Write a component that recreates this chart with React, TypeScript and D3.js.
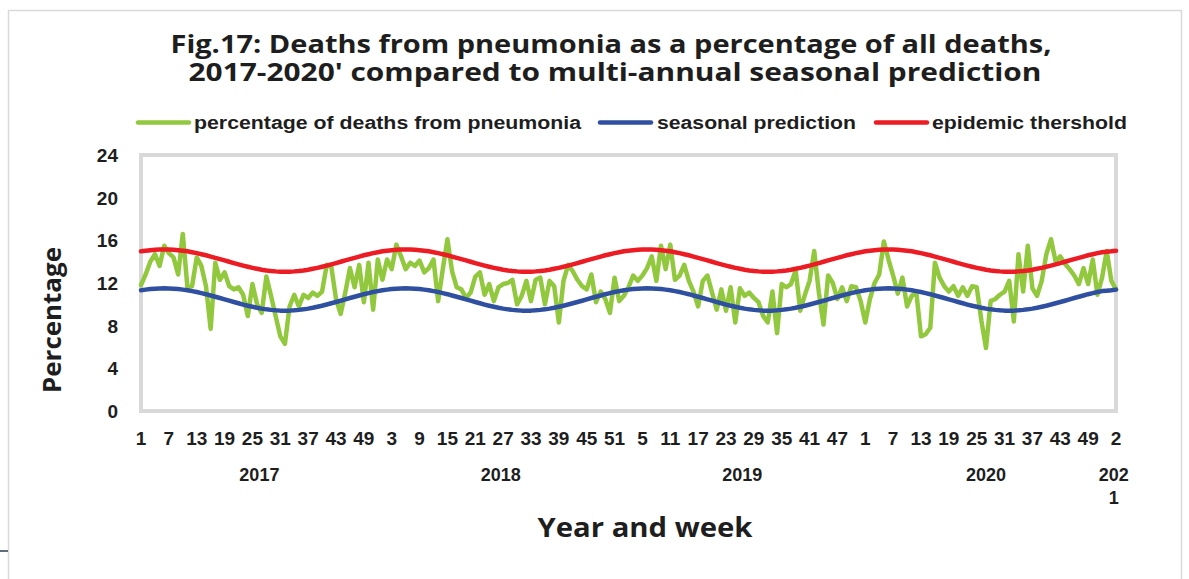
import React from "react";
import * as d3 from "d3";

// ---- data ----
const years = ["2017", "2018", "2019", "2020", "2021"];
const weeksPerYear = [52, 52, 52, 53, 2];

const pct2017 = [
  11.8, 12.8, 14.0, 14.7, 13.6, 15.5, 14.8, 14.4, 12.8, 16.6,
  11.6, 11.7, 14.4, 13.6, 11.7, 7.7, 13.9, 12.3, 13.0, 11.7,
  11.4, 11.6, 10.9, 8.9, 11.9, 10.0, 9.2, 12.6, 10.8, 8.9,
  7.0, 6.3, 9.8, 10.9, 9.8, 10.9, 10.6, 11.1, 10.8, 11.2,
  13.7, 13.5, 10.5, 9.1, 11.1, 13.4, 11.6, 13.7, 10.2, 13.9,
  9.5, 14.2,
];
const pct2018 = [
  12.3, 14.2, 13.3, 15.6, 14.5, 13.3, 13.9, 13.6, 14.1, 13.0,
  13.4, 14.2, 10.3, 13.3, 16.1, 13.1, 11.6, 11.4, 10.6, 11.1,
  12.6, 13.0, 10.9, 11.9, 10.3, 11.6, 11.9, 12.0, 12.3, 10.0,
  10.8, 12.2, 10.3, 12.3, 12.5, 10.0, 12.2, 11.7, 8.3, 12.2,
  13.7, 13.1, 12.3, 11.7, 11.4, 12.8, 10.2, 11.2, 10.5, 9.2,
  12.5, 10.3,
];
const pct2019 = [
  10.8, 11.6, 12.7, 12.2, 12.7, 13.4, 14.5, 12.2, 15.5, 13.3,
  15.6, 12.3, 12.7, 13.7, 12.2, 11.2, 9.8, 12.2, 12.7, 11.1,
  9.5, 11.4, 9.4, 11.6, 8.3, 11.5, 10.8, 11.1, 10.6, 10.2,
  8.9, 8.3, 11.2, 7.3, 11.9, 11.6, 11.9, 13.2, 9.4, 10.9,
  12.2, 15.0, 11.1, 8.1, 12.7, 12.0, 10.5, 11.6, 10.3, 11.7,
  11.6, 10.3,
];
const pct2020 = [
  8.3, 10.5, 12.0, 12.8, 15.9, 14.2, 12.7, 11.0, 12.5, 9.8,
  10.8, 11.1, 7.0, 7.2, 7.8, 13.9, 12.5, 11.7, 11.2, 11.7,
  10.8, 11.6, 10.8, 11.7, 11.6, 8.5, 5.9, 10.3, 10.5, 10.9,
  11.2, 12.2, 8.4, 14.7, 11.2, 15.5, 11.5, 10.8, 12.2, 14.7,
  16.1, 14.0, 14.5, 13.8, 13.3, 12.7, 11.9, 13.4, 11.9, 14.2,
  10.9, 12.5, 15.0,
];
const pct2021 = [12.2, 11.4];

// multi-annual seasonal prediction, by week of year (1..53)
const seasonalByWeek = [
  11.32, 11.38, 11.43, 11.47, 11.49, 11.5, 11.49, 11.47, 11.43, 11.38,
  11.32, 11.24, 11.15, 11.05, 10.95, 10.83, 10.71, 10.59, 10.47, 10.34,
  10.22, 10.1, 9.98, 9.87, 9.77, 9.68, 9.6, 9.53, 9.48, 9.44,
  9.41, 9.4, 9.41, 9.44, 9.48, 9.53, 9.6, 9.68, 9.77, 9.87,
  9.98, 10.1, 10.22, 10.34, 10.47, 10.59, 10.71, 10.83, 10.95, 11.05,
  11.15, 11.24, 11.28,
];
// epidemic threshold, by week of year (1..53)
const thresholdByWeek = [
  14.97, 15.03, 15.08, 15.12, 15.14, 15.15, 15.14, 15.12, 15.08, 15.03,
  14.97, 14.89, 14.8, 14.7, 14.6, 14.48, 14.36, 14.24, 14.12, 13.99,
  13.87, 13.75, 13.63, 13.52, 13.42, 13.33, 13.25, 13.18, 13.13, 13.09,
  13.06, 13.05, 13.06, 13.09, 13.13, 13.18, 13.25, 13.33, 13.42, 13.52,
  13.63, 13.75, 13.87, 13.99, 14.12, 14.24, 14.36, 14.48, 14.6, 14.7,
  14.8, 14.89, 14.93,
];

const yTicks = [0, 4, 8, 12, 16, 20, 24];
const weekLabelStep = 6;

const seriesNames = [
  "percentage of deaths from pneumonia",
  "seasonal prediction",
  "epidemic thershold",
];
const titleLines = [
  "Fig.17: Deaths from pneumonia as a percentage of all deaths,",
  "2017-2020' compared to multi-annual seasonal prediction",
];

// ---- build rows ----
const pctByYear = [pct2017, pct2018, pct2019, pct2020, pct2021];
type Row = { idx: number; year: string; week: number; pct: number; seasonal: number; threshold: number };
const rows: Row[] = [];
const groups: { year: string; start: number; end: number }[] = [];
{
  let idx = 0;
  years.forEach((yr, yi) => {
    const start = idx;
    for (let w = 1; w <= weeksPerYear[yi]; w++) {
      rows.push({
        idx,
        year: yr,
        week: w,
        pct: pctByYear[yi][w - 1],
        seasonal: seasonalByWeek[w - 1],
        threshold: thresholdByWeek[w - 1],
      });
      idx++;
    }
    groups.push({ year: yr, start, end: idx - 1 });
  });
}

const COLORS = { green: "#92c83e", blue: "#2f50a0", red: "#ec1c24" };
const TEXT = "#1e1e1e";

export default function App() {
  const left = 141, right = 1116, top = 155, bottom = 411;
  const x = d3.scaleLinear().domain([0, rows.length - 1]).range([left, right]);
  const y = d3.scaleLinear().domain([0, 24]).range([bottom, top]);

  const mk = (key: keyof Row) =>
    d3.line<Row>().x((d) => x(d.idx)).y((d) => y(d[key] as number))(rows) || "";

  const weekTicks = rows.filter((d) => d.idx % weekLabelStep === 0);

  const legend = [
    { name: seriesNames[0], color: COLORS.green, x1: 138, x2: 189, tx: 194, tl: 387 },
    { name: seriesNames[1], color: COLORS.blue, x1: 600, x2: 651, tx: 657, tl: 199 },
    { name: seriesNames[2], color: COLORS.red, x1: 876, x2: 927, tx: 932, tl: 195 },
  ];

  return (
    <svg
      width={1189}
      height={579}
      style={{ position: "absolute", left: 0, top: 0, display: "block", background: "#fff" }}
    >
      <rect x={0} y={0} width={1189} height={579} fill="#fff" />
      {/* outer chart border */}
      <path d="M8.5,590 L8.5,10.5 L1181.5,10.5 L1181.5,590" fill="none" stroke="#d9d9d9" strokeWidth={1.5} />
      <line x1={0} x2={8} y1={551} y2={551} stroke="#2b3a55" strokeWidth={1.5} />

      {/* title */}
      <g fontFamily="'Open Sans', sans-serif" fontWeight={700} fontSize={25} fill={TEXT} textAnchor="middle">
        <text x={611} y={53} textLength={881} lengthAdjust="spacingAndGlyphs">{titleLines[0]}</text>
        <text x={615} y={81} textLength={853} lengthAdjust="spacingAndGlyphs">{titleLines[1]}</text>
      </g>

      {/* legend */}
      <g fontFamily="'Liberation Sans', Arial, sans-serif" fontWeight={700} fontSize={18} fill={TEXT}>
        {legend.map((l) => (
          <g key={l.name}>
            <line x1={l.x1} x2={l.x2} y1={122.5} y2={122.5} stroke={l.color} strokeWidth={4.5} strokeLinecap="round" />
            <text x={l.tx} y={128.5} textLength={l.tl} lengthAdjust="spacingAndGlyphs">{l.name}</text>
          </g>
        ))}
      </g>

      {/* plot frame */}
      <rect x={left} y={top} width={right - left} height={bottom - top} fill="none" stroke="#d9d9d9" strokeWidth={4} />

      {/* y ticks */}
      <g fontFamily="'Liberation Sans', Arial, sans-serif" fontWeight={700} fontSize={19} fill={TEXT} textAnchor="end">
        {yTicks.map((t) => (
          <text key={t} x={118} y={y(t) + 7}>{t}</text>
        ))}
      </g>

      {/* series */}
      <path d={mk("pct")} fill="none" stroke={COLORS.green} strokeWidth={4.5} strokeLinejoin="round" strokeLinecap="round" />
      <path d={mk("seasonal")} fill="none" stroke={COLORS.blue} strokeWidth={4.5} strokeLinejoin="round" strokeLinecap="round" />
      <path d={mk("threshold")} fill="none" stroke={COLORS.red} strokeWidth={4.5} strokeLinejoin="round" strokeLinecap="round" />

      {/* week labels */}
      <g fontFamily="'Liberation Sans', Arial, sans-serif" fontWeight={700} fontSize={19} fill={TEXT} textAnchor="middle">
        {weekTicks.map((d) => (
          <text key={d.idx} x={x(d.idx)} y={445}>{d.week}</text>
        ))}
      </g>

      {/* year labels */}
      <g fontFamily="'Liberation Sans', Arial, sans-serif" fontWeight={700} fontSize={18} fill={TEXT} textAnchor="middle">
        {groups.map((g) => {
          const cx = x((g.start + g.end) / 2);
          const narrow = x(g.end) - x(g.start) < 40;
          return narrow ? (
            <text key={g.year} x={cx} y={481}>
              <tspan x={cx} dy={0}>{g.year.slice(0, 3)}</tspan>
              <tspan x={cx} dy={23}>{g.year.slice(3)}</tspan>
            </text>
          ) : (
            <text key={g.year} x={cx} y={481}>{g.year}</text>
          );
        })}
      </g>

      {/* axis titles */}
      <text x={645} y={537} fontFamily="'Open Sans', sans-serif" fontWeight={700} fontSize={26} fill={TEXT}
        textAnchor="middle" textLength={215} lengthAdjust="spacingAndGlyphs">Year and week</text>
      <text transform="translate(61,320) rotate(-90)" fontFamily="'Open Sans', sans-serif" fontWeight={700}
        fontSize={25} fill={TEXT} textAnchor="middle" textLength={146} lengthAdjust="spacingAndGlyphs">Percentage</text>
    </svg>
  );
}
